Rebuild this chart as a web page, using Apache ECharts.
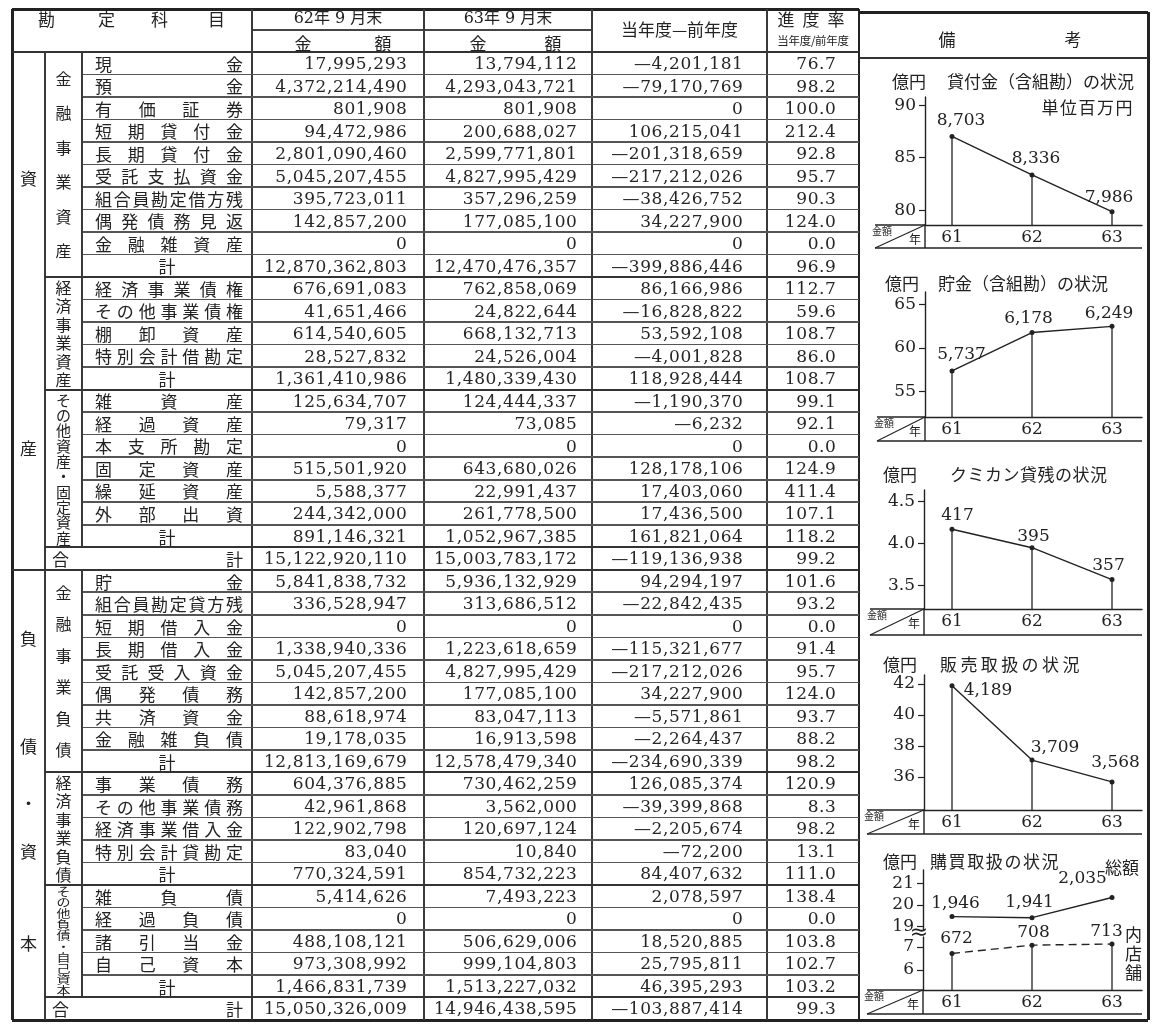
<!DOCTYPE html>
<html><head><meta charset="utf-8">
<script src="https://cdn.jsdelivr.net/npm/echarts@6.0.0/dist/echarts.min.js"></script>
<style>
html,body{margin:0;padding:0;background:#fff;}
#page{position:relative;width:1156px;height:1024px;overflow:hidden;background:#fff;font-family:"Noto Sans CJK JP",sans-serif;color:#222;}
#chart{position:absolute;left:0;top:0;width:1156px;height:1024px;z-index:1;}
.ov{position:absolute;white-space:nowrap;z-index:2;line-height:1;}
</style></head>
<body><div id="page"><div id="chart"></div></div>
<script>
// ---------------- DATA ----------------
const itemNames = ['現金','預金','有価証券','短期貸付金','長期貸付金','受託支払資金','組合員勘定借方残','偶発債務見返','金融雑資産','計',
  '経済事業債権','その他事業債権','棚卸資産','特別会計借勘定','計',
  '雑資産','経過資産','本支所勘定','固定資産','繰延資産','外部出資','計',
  '合計',
  '貯金','組合員勘定貸方残','短期借入金','長期借入金','受託受入資金','偶発債務','共済資金','金融雑負債','計',
  '事業債務','その他事業債務','経済事業借入金','特別会計貸勘定','計',
  '雑負債','経過負債','諸引当金','自己資本','計',
  '合計'];
const amount62 = [17995293,4372214490,801908,94472986,2801090460,5045207455,395723011,142857200,0,12870362803,
  676691083,41651466,614540605,28527832,1361410986,
  125634707,79317,0,515501920,5588377,244342000,891146321,
  15122920110,
  5841838732,336528947,0,1338940336,5045207455,142857200,88618974,19178035,12813169679,
  604376885,42961868,122902798,83040,770324591,
  5414626,0,488108121,973308992,1466831739,
  15050326009];
const amount63 = [13794112,4293043721,801908,200688027,2599771801,4827995429,357296259,177085100,0,12470476357,
  762858069,24822644,668132713,24526004,1480339430,
  124444337,73085,0,643680026,22991437,261778500,1052967385,
  15003783172,
  5936132929,313686512,0,1223618659,4827995429,177085100,83047113,16913598,12578479340,
  730462259,3562000,120697124,10840,854732223,
  7493223,0,506629006,999104803,1513227032,
  14946438595];
const diffValues = [-4201181,-79170769,0,106215041,-201318659,-217212026,-38426752,34227900,0,-399886446,
  86166986,-16828822,53592108,-4001828,118928444,
  -1190370,-6232,0,128178106,17403060,17436500,161821064,
  -119136938,
  94294197,-22842435,0,-115321677,-217212026,34227900,-5571861,-2264437,-234690339,
  126085374,-39399868,-2205674,-72200,84407632,
  2078597,0,18520885,25795811,46395293,
  -103887414];
const progressRate = [76.7,98.2,100.0,212.4,92.8,95.7,90.3,124.0,0.0,96.9,
  112.7,59.6,108.7,86.0,108.7,
  99.1,92.1,0.0,124.9,411.4,107.1,118.2,
  99.2,
  101.6,93.2,0.0,91.4,95.7,124.0,93.7,88.2,98.2,
  120.9,8.3,98.2,13.1,111.0,
  138.4,0.0,103.8,102.7,103.2,
  99.3];
const groupLabels = ['金融事業資産','経済事業資産','その他資産・固定資産','','金融事業負債','経済事業負債','その他負債・自己資本',''];
const groupRows = [10,5,7,1,9,5,5,1];

// chart data (百万円)
const years = [61, 62, 63];
const yearTicks = [61, 62, 63];
const loanBalance = [8703, 8336, 7986];
const savingsBalance = [5737, 6178, 6249];
const kumikanBalance = [417, 395, 357];
const salesVolume = [4189, 3709, 3568];
const purchaseTotal = [1946, 1941, 2035];
const purchaseStore = [672, 708, 713];
const loanTicks = [80, 85, 90];
const savingsTicks = [55, 60, 65];
const kumikanTicks = [3.5, 4.0, 4.5];
const salesTicks = [36, 38, 40, 42];
const purchaseUpperTicks = [19, 20, 21];
const purchaseLowerTicks = [6, 7];

// ---------------- TABLE (HTML) ----------------
const page = document.getElementById('page');
const L = {a0:12,a1:45,b1:82,c1:252,d1:424,e1:592,f1:767,g1:859,r:1148,top:9,hmid:30,hbot:52,bot:1020,remTop:12,remHead:58};
const NR = itemNames.length;
const rowH = (L.bot - L.hbot) / NR;
const rowY = i => L.hbot + i * rowH;
const LC = '#333';
function box(x, y, w, h, bg) {
  const d = document.createElement('div');
  d.style.cssText = `position:absolute;left:${x}px;top:${y}px;width:${w}px;height:${h}px;background:${bg};`;
  page.appendChild(d);
}
function hline(x0, x1, y, t = 2, c = LC) { box(x0, y - t / 2, x1 - x0, t, c); }
function vline(x, y0, y1, t = 2, c = LC) { box(x - t / 2, y0, t, y1 - y0, c); }
function tdiv(text, css) {
  const d = document.createElement('div');
  d.className = 'ov';
  d.style.cssText += css;
  d.textContent = text;
  page.appendChild(d);
  return d;
}
function spread(text, x0, x1, yc, size, css = '') {
  const d = document.createElement('div');
  d.className = 'ov';
  d.style.cssText += `left:${x0}px;width:${x1 - x0}px;top:${yc - size / 2}px;height:${size}px;line-height:${size}px;font-size:${size}px;display:flex;justify-content:${text.length > 1 ? 'space-between' : 'center'};` + css;
  for (const ch of text) { const s = document.createElement('span'); s.textContent = ch; d.appendChild(s); }
  page.appendChild(d);
}
function vspread(text, xc, y0, y1, size, slot, css = '') {
  const d = document.createElement('div');
  d.className = 'ov';
  d.style.cssText += `left:${xc - size}px;width:${size * 2}px;top:${y0}px;height:${y1 - y0}px;display:flex;flex-direction:column;justify-content:space-evenly;align-items:center;font-size:${size}px;`;
  for (const ch of text) { const s = document.createElement('span'); s.textContent = ch; s.style.cssText = `display:block;height:${slot}px;line-height:${slot}px;` + css; d.appendChild(s); }
  page.appendChild(d);
}
const fmt = v => v.toLocaleString('en-US');
const fmtSigned = v => v < 0 ? '—' + fmt(-v) : fmt(v);

// borders and column lines
hline(L.a0, L.g1, L.top, 3, '#222');
hline(L.g1, L.r, L.remTop, 3, '#222');
hline(L.a0, L.r, L.bot, 3, '#222');
vline(L.a0, L.top, L.bot, 3, '#222');
vline(L.r, L.remTop, L.bot, 3, '#222');
vline(L.g1, L.top, L.bot, 2.5, '#222');
hline(L.g1, L.r, L.remHead, 2, '#333');
hline(L.a0, L.g1, L.hbot, 2, '#333');
hline(L.c1, L.e1, L.hmid, 1.5, '#444');
[L.c1, L.d1, L.e1, L.f1].forEach(x => vline(x, L.top, L.bot, 2, '#3a3a3a'));
vline(L.a1, L.hbot, L.bot, 2, '#3a3a3a');

// rows
let r = 0;
groupRows.forEach((n, gi) => {
  const start = r, end = r + n;
  const isTotal = groupLabels[gi] === '';
  for (let i = start; i < end; i++) {
    const isEnd = i === end - 1;
    let x0 = isEnd ? L.a1 : L.b1;
    if (i === 22) x0 = L.a0;
    if (i !== NR - 1) hline(x0, L.g1, rowY(i + 1), isEnd ? 2 : 1.6, isEnd ? '#333' : '#555');
  }
  if (!isTotal) {
    vline(L.b1, rowY(start), rowY(end), 2, '#3a3a3a');
    const lab = groupLabels[gi];
    const xc = (L.a1 + L.b1) / 2;
    if (lab.length > 6) {
      if (n >= 7) vspread(lab, xc, rowY(start) + 2, rowY(end) - 2, 15, 15.2);
      else vspread(lab, xc, rowY(start) + 1, rowY(end) - 1, 14, 11, 'transform:scaleY(0.8);');
    } else {
      vspread(lab, xc, rowY(start), rowY(end), 16, 17);
    }
  }
  r = end;
});

// row texts
for (let i = 0; i < NR; i++) {
  const yc = rowY(i) + rowH / 2;
  const name = itemNames[i];
  if (name === '合計') spread(name, 52, 243, yc, 17);
  else if (name === '計') spread(name, L.b1, L.c1, yc, 17);
  else spread(name, 95, 243, yc, 17);
  const nc = `top:${rowY(i)}px;height:${rowH}px;line-height:${rowH}px;text-align:right;font-family:'DejaVu Serif',serif;font-size:17px;letter-spacing:0.6px;color:#262626;`;
  tdiv(fmt(amount62[i]), `left:${L.c1}px;width:${L.d1 - L.c1 - 16.5}px;` + nc);
  tdiv(fmt(amount63[i]), `left:${L.d1}px;width:${L.e1 - L.d1 - 14.5}px;` + nc);
  tdiv(fmtSigned(diffValues[i]), `left:${L.e1}px;width:${L.f1 - L.e1 - 23.5}px;` + nc);
  tdiv(progressRate[i].toFixed(1), `left:${L.f1}px;width:${L.g1 - L.f1 - 22.5}px;` + nc);
}

// column A labels
[['資',177],['産',447],['負',637],['債',745],['・',802],['資',850],['本',942]].forEach(([t, y]) => {
  tdiv(t, `left:${L.a0}px;width:${L.a1 - L.a0}px;text-align:center;top:${y - 8.5}px;font-size:17px;`);
});

// header texts
[['勘',47],['定',107],['科',160],['目',217]].forEach(([t, x]) => tdiv(t, `left:${x - 9}px;top:${19 - 9}px;font-size:17px;`));
const hdrNum = `font-family:'DejaVu Serif','Noto Sans CJK JP',serif;font-size:16px;text-align:center;`;
tdiv('62年 9 月末', `left:${L.c1}px;width:${L.d1 - L.c1}px;top:${18 - 8}px;` + hdrNum);
tdiv('63年 9 月末', `left:${L.d1}px;width:${L.e1 - L.d1}px;top:${18 - 8}px;` + hdrNum);
[['金',303],['額',383],['金',478],['額',553]].forEach(([t, x]) => tdiv(t, `left:${x - 8.5}px;top:${42 - 8.5}px;font-size:17px;`));
tdiv('当年度—前年度', `left:${L.e1}px;width:${L.f1 - L.e1}px;text-align:center;top:${28 - 8.5}px;font-size:17px;`);
[['進',786],['度',811],['率',836]].forEach(([t, x]) => tdiv(t, `left:${x - 8.5}px;top:${18 - 8.5}px;font-size:17px;`));
tdiv('当年度/前年度', `left:${L.f1}px;width:${L.g1 - L.f1}px;text-align:center;top:${41 - 6}px;font-size:11.5px;letter-spacing:-0.3px;`);
[['備',947],['考',1073]].forEach(([t, x]) => tdiv(t, `left:${x - 8.5}px;top:${38 - 8.5}px;font-size:17px;`));

// chart titles (HTML text)
const titles = [
  ['億円', 892, 80, 0], ['貸付金（含組勘）の状況', 947, 80, 0],
  ['億円', 885, 282, 0], ['貯金（含組勘）の状況', 938, 282, 0],
  ['億円', 883, 473, 0], ['クミカン貸残の状況', 950, 473, 0.5],
  ['億円', 883, 663, 0], ['販売取扱の状況', 940, 663, 3.4],
  ['億円', 883, 860, 0], ['購買取扱の状況', 930, 860, 1.6],
  ['総額', 1105, 866, 0], ['内', 1125, 933, 0], ['店', 1125, 952, 0], ['舗', 1125, 971, 0]
];
titles.forEach(([t, x, y, ls]) => tdiv(t, `left:${x}px;top:${y - 8.5}px;font-size:17px;letter-spacing:${ls}px;`));
tdiv('単位百万円', `right:${1156 - 1134}px;top:${106 - 8.5}px;font-size:17px;letter-spacing:1.5px;`);

// ---------------- CHARTS (ECharts) ----------------
const RIGHT = 1142;
const panels = [
  {axisX:925, top:97,  base:225, bandBottom:248,  bandLeft:875, yMin:78.59,  yMax:90.78,  ticks:loanTicks,          dec:0, data:loanBalance,    drop:true,  dash:false},
  {axisX:925, top:292, base:417, bandBottom:441,  bandLeft:877, yMin:52.07,  yMax:66.44,  ticks:savingsTicks,       dec:0, data:savingsBalance, drop:true,  dash:false},
  {axisX:924, top:490, base:609, bandBottom:635,  bandLeft:870, yMin:3.22,   yMax:4.637,  ticks:kumikanTicks,       dec:1, data:kumikanBalance, drop:true,  dash:false},
  {axisX:924, top:675, base:810, bandBottom:834,  bandLeft:867, yMin:33.87,  yMax:42.58,  ticks:salesTicks,         dec:0, data:salesVolume,    drop:true,  dash:false},
  {axisX:923, top:870, base:930, bandBottom:null, bandLeft:null, yMin:18.837, yMax:21.628, ticks:purchaseUpperTicks, dec:0, data:purchaseTotal,  drop:false, dash:false, noX:true},
  {axisX:923, top:937, base:990, bandBottom:1014, bandLeft:867, yMin:5.13,   yMax:7.435,  ticks:purchaseLowerTicks, dec:0, data:purchaseStore,  drop:true,  dash:true}
];
const labelOffsets = [
  [[9,-16],[4,-16],[-3,-14]],
  [[9.5,-16],[-3.5,-14],[-3,-13]],
  [[5.5,-14],[1.5,-11],[-3.5,-14]],
  [[36,5],[23,-13],[3.5,-19]],
  [[3.5,-13],[-2.5,-15],[-29.5,-19]],
  [[4.5,-15],[1.5,-13],[-5.5,-12]]
];
const INK = '#222';
const NUMFONT = 'DejaVu Serif';
const grids = [], xAxes = [], yAxes = [], series = [], graphics = [];
panels.forEach((p, i) => {
  grids.push({left:p.axisX, top:p.top, width:RIGHT - p.axisX, height:p.base - p.top, containLabel:false, outerBoundsMode:'none'});
  xAxes.push({
    type:'value', gridIndex:i, min:61 - (952 - p.axisX) / 80, max:63 + (RIGHT - 1112) / 80, show:!p.noX,
    axisLine:{show:true, onZero:false, lineStyle:{color:INK, width:1.4}},
    axisTick:{show:false}, splitLine:{show:false},
    axisLabel:{show:true, customValues:yearTicks, formatter:v => String(Math.round(v)), fontFamily:NUMFONT, fontSize:17, color:INK, margin:4}
  });
  yAxes.push({
    type:'value', gridIndex:i, min:p.yMin, max:p.yMax,
    axisLine:{show:true, onZero:false, lineStyle:{color:INK, width:1.4}},
    axisTick:{show:true, inside:false, length:6, customValues:p.ticks, lineStyle:{color:INK, width:1.2}},
    axisLabel:{show:true, customValues:p.ticks, formatter:v => p.dec ? v.toFixed(p.dec) : String(Math.round(v)), fontFamily:NUMFONT, fontSize:17, color:INK, margin:9},
    splitLine:{show:false}
  });
  const pts = years.map((y, k) => [y, p.data[k] / 100]);
  if (p.drop) {
    const yMin = p.yMin;
    series.push({
      type:'custom', xAxisIndex:i, yAxisIndex:i, data:pts, silent:true, z:2,
      renderItem:(params, api) => {
        const a = api.coord([api.value(0), api.value(1)]);
        const b = api.coord([api.value(0), yMin]);
        return {type:'line', shape:{x1:a[0], y1:a[1], x2:b[0], y2:b[1]}, style:{stroke:INK, lineWidth:1.3}};
      }
    });
  }
  series.push({
    type:'line', xAxisIndex:i, yAxisIndex:i, z:3,
    data:pts.map((v, k) => ({value:v, label:{offset:labelOffsets[i][k]}})),
    symbol:'circle', symbolSize:5, itemStyle:{color:INK},
    lineStyle:{color:INK, width:1.4, type:p.dash ? [8, 5] : 'solid'},
    label:{show:true, position:'inside', fontFamily:NUMFONT, fontSize:17, color:INK, formatter:prm => fmt(p.data[prm.dataIndex])},
    emphasis:{disabled:true}
  });
  if (p.bandBottom) {
    const T = p.base, B = p.bandBottom, A = p.axisX, BL = p.bandLeft;
    const ls = {stroke:INK, lineWidth:1.4};
    graphics.push({type:'line', shape:{x1:BL, y1:T, x2:A, y2:T}, style:ls});
    graphics.push({type:'line', shape:{x1:BL, y1:B, x2:RIGHT, y2:B}, style:ls});
    graphics.push({type:'line', shape:{x1:BL, y1:B, x2:A, y2:T}, style:{stroke:INK, lineWidth:1.1}});
    graphics.push({type:'line', shape:{x1:A, y1:T, x2:A, y2:B}, style:ls});
    graphics.push({type:'text', x:BL + 7, y:T + 6, style:{text:'金額', font:'10px "Noto Sans CJK JP"', fill:INK, textAlign:'center', textVerticalAlign:'middle', align:'center', verticalAlign:'middle'}});
    graphics.push({type:'text', x:A - 10, y:T + 14, style:{text:'年', font:'12px "Noto Sans CJK JP"', fill:INK, textAlign:'center', textVerticalAlign:'middle', align:'center', verticalAlign:'middle'}});
  }
});
// axis break mark between upper and lower purchase grids
graphics.push({type:'text', x:panels[4].axisX - 4, y:(panels[4].base + panels[5].top) / 2, style:{text:'≈', font:'22px "DejaVu Sans"', fill:INK, textAlign:'center', textVerticalAlign:'middle', align:'center', verticalAlign:'middle'}});

const chart = echarts.init(document.getElementById('chart'), null, {renderer:'canvas'});
chart.setOption({
  animation:false,
  backgroundColor:'transparent',
  grid:grids, xAxis:xAxes, yAxis:yAxes, series:series,
  graphic:{elements:graphics}
});
</script>
</body></html>
